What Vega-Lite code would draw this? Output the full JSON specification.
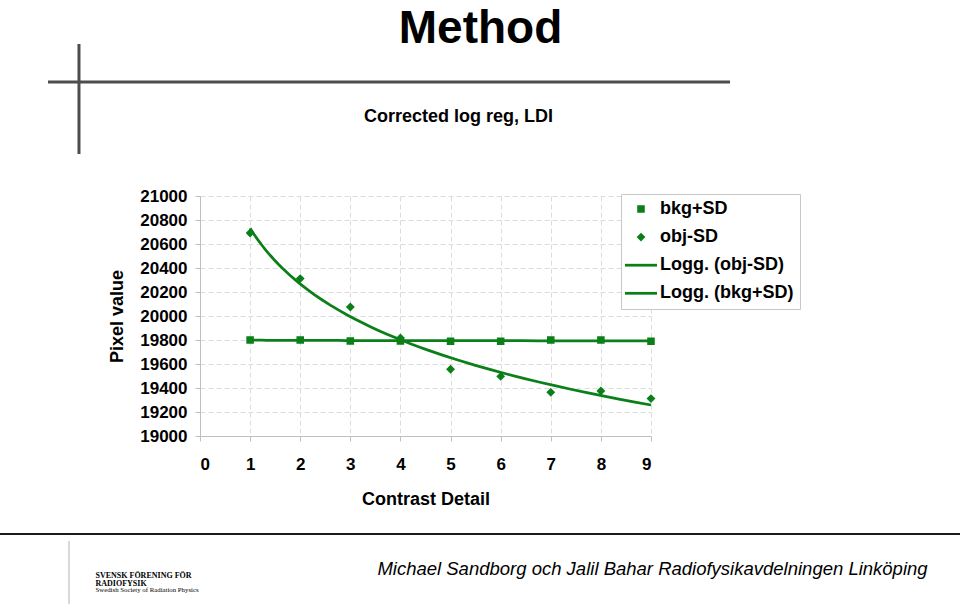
{
  "$schema": "https://vega.github.io/schema/vega-lite/v6.json",
  "width": 451,
  "height": 240,
  "autosize": {"type": "none"},
  "padding": {"left": 200, "top": 196, "right": 309, "bottom": 172},
  "background": "white",
  "config": {"view": {"stroke": null}, "font": "Liberation Sans"},
  "data": {
    "values": [
      {"series": "bkg+SD", "x": 1, "y": 19800},
      {"series": "bkg+SD", "x": 2, "y": 19800},
      {"series": "bkg+SD", "x": 3, "y": 19792},
      {"series": "bkg+SD", "x": 4, "y": 19792},
      {"series": "bkg+SD", "x": 5, "y": 19790},
      {"series": "bkg+SD", "x": 6, "y": 19790},
      {"series": "bkg+SD", "x": 7, "y": 19800},
      {"series": "bkg+SD", "x": 8, "y": 19800},
      {"series": "bkg+SD", "x": 9, "y": 19790},
      {"series": "obj-SD", "x": 1, "y": 20692},
      {"series": "obj-SD", "x": 2, "y": 20312},
      {"series": "obj-SD", "x": 3, "y": 20075},
      {"series": "obj-SD", "x": 4, "y": 19817},
      {"series": "obj-SD", "x": 5, "y": 19556},
      {"series": "obj-SD", "x": 6, "y": 19497},
      {"series": "obj-SD", "x": 7, "y": 19364},
      {"series": "obj-SD", "x": 8, "y": 19375},
      {"series": "obj-SD", "x": 9, "y": 19312}
    ]
  },
  "resolve": {"axis": {"x": "independent", "y": "independent"}},
  "layer": [
    {
      "data": {"values": [{}]},
      "mark": {"type": "rule", "color": "#4d4d4d", "strokeWidth": 3},
      "encoding": {
        "x": {
          "datum": -3.033, "type": "quantitative",
          "scale": {"domain": [0, 9], "nice": false, "zero": false},
          "axis": {
            "orient": "top", "labels": false, "ticks": false, "domain": false, "grid": false,
            "title": "Method", "titleFont": "Liberation Sans", "titleFontSize": 46, "titleFontWeight": "bold", "titleColor": "black",
            "titleX": 280, "titleY": -154, "titleAlign": "center", "titleBaseline": "alphabetic"
          }
        },
        "x2": {"datum": 10.577},
        "y": {
          "datum": 21950, "type": "quantitative",
          "scale": {"domain": [19000, 21000], "nice": false, "zero": false},
          "axis": {
            "orient": "left", "labels": false, "ticks": false, "domain": false, "grid": false,
            "title": "Swedish Society of Radiation Physics", "titleFont": "Liberation Serif", "titleFontSize": 6.8, "titleFontWeight": "normal", "titleColor": "black",
            "titleAngle": 0, "titleX": -105, "titleY": 395.5, "titleAlign": "left", "titleBaseline": "alphabetic"
          }
        }
      }
    },
    {
      "data": {"values": [{}]},
      "mark": {"type": "rule", "color": "#4d4d4d", "strokeWidth": 3},
      "encoding": {
        "x": {"datum": -2.415, "type": "quantitative", "axis": null},
        "y": {"datum": 22267, "type": "quantitative", "axis": null},
        "y2": {"datum": 21350}
      }
    },
    {
      "data": {"values": [{}]},
      "mark": {"type": "rule", "color": "#1a1a1a", "strokeWidth": 2},
      "encoding": {
        "x": {
          "datum": -3.991, "type": "quantitative",
          "axis": {
            "orient": "bottom", "labels": false, "ticks": false, "domain": false, "grid": false,
            "title": "Michael Sandborg och Jalil Bahar Radiofysikavdelningen Linköping",
            "titleFont": "Liberation Sans", "titleFontSize": 18.5, "titleFontWeight": "normal", "titleFontStyle": "italic", "titleColor": "black",
            "titleX": 452, "titleY": 132, "titleAlign": "center", "titleBaseline": "middle"
          }
        },
        "x2": {"datum": 15.166},
        "y": {"datum": 18183, "type": "quantitative", "axis": null}
      }
    },
    {
      "data": {"values": [{}]},
      "mark": {"type": "rule", "color": "#d3c9c9", "strokeWidth": 1.5},
      "encoding": {
        "x": {"datum": -2.614, "type": "quantitative", "axis": null},
        "y": {"datum": 18125, "type": "quantitative", "axis": null},
        "y2": {"datum": 17600}
      }
    },
    {
      "transform": [
        {"filter": "datum.series === 'obj-SD'"},
        {"regression": "y", "on": "x", "method": "log", "extent": [1, 9]}
      ],
      "mark": {"type": "line", "color": "#0b7f18", "strokeWidth": 2.75},
      "encoding": {
        "x": {
          "field": "x", "type": "quantitative",
          "axis": {
            "orient": "top", "labels": false, "ticks": false, "domain": false, "grid": false,
            "title": "Corrected log reg, LDI", "titleFont": "Liberation Sans", "titleFontSize": 18, "titleFontWeight": "bold", "titleColor": "black",
            "titleX": 258, "titleY": -80, "titleAlign": "center", "titleBaseline": "middle"
          }
        },
        "y": {
          "field": "y", "type": "quantitative",
          "axis": {
            "orient": "left", "labels": false, "ticks": false, "domain": false, "grid": false,
            "title": "SVENSK FÖRENING FÖR", "titleFont": "Liberation Serif", "titleFontSize": 8, "titleFontWeight": "bold", "titleColor": "black",
            "titleAngle": 0, "titleX": -105, "titleY": 381, "titleAlign": "left", "titleBaseline": "alphabetic"
          }
        }
      }
    },
    {
      "transform": [
        {"filter": "datum.series === 'bkg+SD'"},
        {"regression": "y", "on": "x", "method": "log", "extent": [1, 9]}
      ],
      "mark": {"type": "line", "color": "#0b7f18", "strokeWidth": 2.75},
      "encoding": {
        "x": {"field": "x", "type": "quantitative", "axis": null},
        "y": {
          "field": "y", "type": "quantitative",
          "axis": {
            "orient": "left", "labels": false, "ticks": false, "domain": false, "grid": false,
            "title": "RADIOFYSIK", "titleFont": "Liberation Serif", "titleFontSize": 8, "titleFontWeight": "bold", "titleColor": "black",
            "titleAngle": 0, "titleX": -105, "titleY": 389, "titleAlign": "left", "titleBaseline": "alphabetic"
          }
        }
      }
    },
    {
      "mark": {"type": "point", "filled": true, "size": 64, "opacity": 1, "stroke": "#0b7f18", "strokeWidth": 2.75},
      "encoding": {
        "x": {
          "field": "x", "type": "quantitative",
          "axis": {
            "orient": "bottom", "values": [0, 1, 2, 3, 4, 5, 6, 7, 8, 9],
            "title": "Contrast Detail", "titleFontSize": 18, "titleFontWeight": "bold", "titleColor": "black", "titlePadding": 18,
            "labelFontSize": 17, "labelFontWeight": "bold", "labelColor": "black", "labelPadding": 15,
            "tickSize": 5, "tickColor": "#bfbfbf", "domainColor": "#bfbfbf",
            "grid": true, "gridColor": "#dcdcdc", "gridDash": [5, 3]
          }
        },
        "y": {
          "field": "y", "type": "quantitative",
          "axis": {
            "orient": "left", "values": [19000, 19200, 19400, 19600, 19800, 20000, 20200, 20400, 20600, 20800, 21000],
            "format": "d",
            "title": "Pixel value", "titleFontSize": 18, "titleFontWeight": "bold", "titleColor": "black", "titlePadding": 13,
            "labelFontSize": 17, "labelFontWeight": "bold", "labelColor": "black", "labelPadding": 8,
            "tickSize": 5, "tickColor": "#bfbfbf", "domainColor": "#bfbfbf",
            "grid": true, "gridColor": "#dcdcdc", "gridDash": [5, 3]
          }
        },
        "color": {
          "field": "series", "type": "nominal",
          "scale": {
            "domain": ["bkg+SD", "obj-SD", "Logg. (obj-SD)", "Logg. (bkg+SD)"],
            "range": ["#0b7f18", "#0b7f18", "#0b7f18", "#0b7f18"]
          },
          "legend": {
            "orient": "none", "legendX": 421, "legendY": -2, "direction": "vertical",
            "title": null, "padding": 6,
            "strokeColor": "#c8c8c8", "fillColor": "white",
            "labelFont": "Liberation Sans", "labelFontSize": 18, "labelFontWeight": "bold", "labelColor": "black", "labelLimit": 400,
            "rowPadding": 10.1, "symbolSize": 64, "symbolOffset": 5, "labelOffset": 10, "symbolOpacity": 1,
            "symbolStrokeWidth": 2.75, "symbolStrokeColor": "#0b7f18", "symbolFillColor": "#0b7f18"
          }
        },
        "shape": {
          "field": "series", "type": "nominal",
          "scale": {
            "domain": ["bkg+SD", "obj-SD", "Logg. (obj-SD)", "Logg. (bkg+SD)"],
            "range": ["M-0.6,-0.6H0.6V0.6H-0.6Z", "M-0.62,0L0,-0.62L0.62,0L0,0.62Z", "M-4,0H4", "M-4,0H4"]
          }
        }
      }
    }
  ]
}
